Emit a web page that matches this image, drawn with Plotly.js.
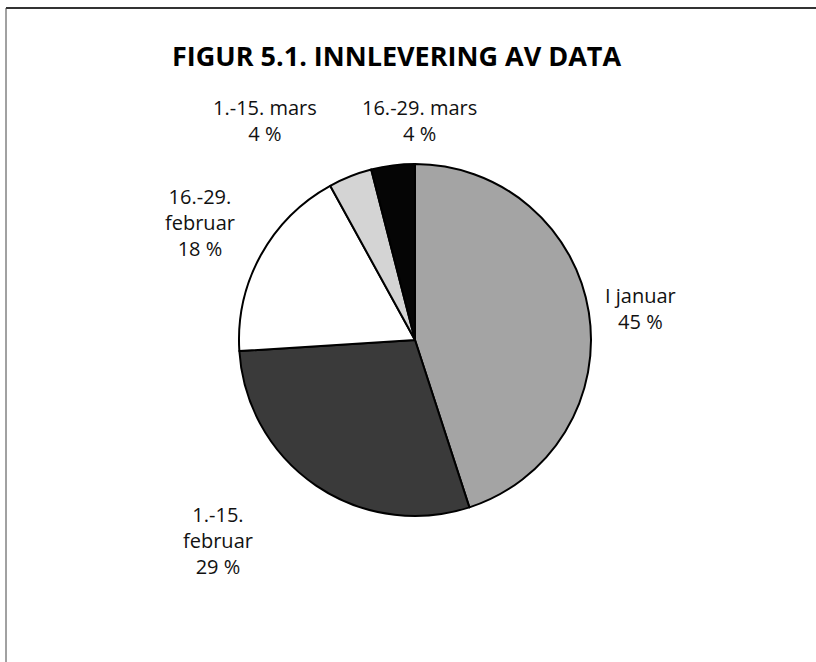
<!DOCTYPE html>
<html>
<head>
<meta charset="utf-8">
<script src="https://cdn.plot.ly/plotly-3.0.1.min.js"></script>
<style>html,body{margin:0;padding:0;background:#fff;}#chart{width:816px;height:662px;}</style>
</head>
<body>
<div id="chart"></div>
<script>
var categories = ["I januar", "1.-15.<br>februar", "16.-29.<br>februar", "1.-15. mars", "16.-29. mars"];
var shares = [45, 29, 18, 4, 4];
var sliceColors = ["#a4a4a4", "#3a3a3a", "#ffffff", "#d4d4d4", "#050505"];
var labelPos = [[640, 308], [218, 540], [200, 222], [265, 121], [420, 121]];

var W = 816, H = 662;
var cx = 415, cy = 340, r = 176;

var annotations = categories.map(function (c, i) {
  return {
    text: c + "<br>" + shares[i] + " %",
    x: labelPos[i][0] / W, y: 1 - labelPos[i][1] / H,
    xref: "paper", yref: "paper", showarrow: false,
    xanchor: "center", yanchor: "middle",
    font: {family: "Open Sans, sans-serif", size: 20, color: "#111"}
  };
});
annotations.push({
  text: "<b>FIGUR 5.1. INNLEVERING AV DATA</b>",
  x: 396 / W, y: 1 - 56 / H, xref: "paper", yref: "paper", showarrow: false,
  xanchor: "center", yanchor: "middle",
  font: {family: "Open Sans, sans-serif", size: 27, color: "#000"}
});

var data = [{
  type: "pie",
  labels: categories,
  values: shares,
  sort: false,
  direction: "clockwise",
  rotation: 0,
  textinfo: "none",
  hoverinfo: "label+percent",
  marker: {colors: sliceColors, line: {color: "#000", width: 2}},
  domain: {x: [(cx - r) / W, (cx + r) / W], y: [1 - (cy + r) / H, 1 - (cy - r) / H]},
  showlegend: false
}];

var layout = {
  width: W, height: H,
  margin: {l: 0, r: 0, t: 0, b: 0},
  paper_bgcolor: "#fff",
  showlegend: false,
  annotations: annotations,
  shapes: [
    {type: "line", xref: "paper", yref: "paper", x0: 6 / W, x1: 1, y0: 1 - 8 / H, y1: 1 - 8 / H, line: {color: "#333", width: 2}},
    {type: "line", xref: "paper", yref: "paper", x0: 6 / W, x1: 6 / W, y0: 0, y1: 1 - 8 / H, line: {color: "#444", width: 1}}
  ]
};

Plotly.newPlot("chart", data, layout, {displayModeBar: false, staticPlot: true});
</script>
</body>
</html>
